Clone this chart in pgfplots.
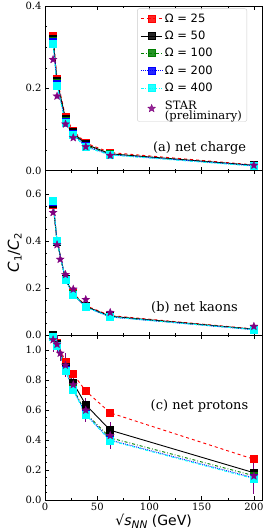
\documentclass[border=0pt]{standalone}
\usepackage{fontspec}
\setmainfont{DejaVu Serif}
\newfontfamily\dvs{DejaVu Sans}
\usepackage{pgfplots}
\pgfplotsset{compat=1.18}
\usepgfplotslibrary{groupplots}
\definecolor{mgreen}{rgb}{0,0.5,0}
\definecolor{mpurple}{rgb}{0.5,0,0.5}
\definecolor{mcyan}{rgb}{0,1,1}
\definecolor{mred}{rgb}{1,0,0}
\definecolor{mblue}{rgb}{0,0,1}
\pgfdeclareplotmark{fstar}{%
  \pgfpathmoveto{\pgfqpointpolar{90}{1.15\pgfplotmarksize}}%
  \pgfpathlineto{\pgfqpointpolar{126}{0.5\pgfplotmarksize}}%
  \pgfpathlineto{\pgfqpointpolar{162}{1.15\pgfplotmarksize}}%
  \pgfpathlineto{\pgfqpointpolar{198}{0.5\pgfplotmarksize}}%
  \pgfpathlineto{\pgfqpointpolar{234}{1.15\pgfplotmarksize}}%
  \pgfpathlineto{\pgfqpointpolar{270}{0.5\pgfplotmarksize}}%
  \pgfpathlineto{\pgfqpointpolar{306}{1.15\pgfplotmarksize}}%
  \pgfpathlineto{\pgfqpointpolar{342}{0.5\pgfplotmarksize}}%
  \pgfpathlineto{\pgfqpointpolar{18}{1.15\pgfplotmarksize}}%
  \pgfpathlineto{\pgfqpointpolar{54}{0.5\pgfplotmarksize}}%
  \pgfpathclose
  \pgfusepathqfillstroke}
\pgfplotsset{
  om25/.style={mred, dashed, line width=0.9pt, mark=square*, mark size=3.5pt, mark options={solid}},
  om50/.style={black, solid, line width=0.9pt, mark=square*, mark size=3.5pt, mark options={solid}},
  om100/.style={mgreen, dash pattern=on 3pt off 2pt on 0.8pt off 2pt, line width=0.9pt, mark=square*, mark size=3.5pt, mark options={solid}},
  om200/.style={mblue, densely dotted, line width=0.9pt, mark=square*, mark size=3.5pt, mark options={solid}},
  om400/.style={mcyan, dash pattern=on 3pt off 1.5pt on 0.8pt off 1.5pt, line width=0.9pt, mark=square*, mark size=3.5pt, mark options={solid}},
  star/.style={mpurple, only marks, mark=fstar, mark size=3.6pt, mark options={fill=mpurple, line width=0.3pt},
     error bars/.cd, y dir=both, y explicit, error bar style={line width=1pt, mpurple}, error mark=none},
}
\begin{document}
\begin{tikzpicture}
\begin{groupplot}[
  group style={group size=1 by 3, vertical sep=0pt, x descriptions at=edge bottom},
  width=217pt, height=164.5pt, scale only axis,
  xmin=0, xmax=208,
  xtick={0,50,100,150,200}, minor x tick num=1,
  minor y tick num=3,
  tick align=inside, xtick pos=both, ytick pos=left,
  major tick length=3.5pt, minor tick length=2pt,
  tick style={black, line width=0.5pt},
  axis line style={line width=0.7pt},
  /pgf/number format/assume math mode=true,
  yticklabel style={/pgf/number format/.cd, fixed, fixed zerofill, precision=1},
  tick label style={font=\fontsize{10}{11}\selectfont},
  ymin=0,
]
\nextgroupplot[ymax=0.4, ytick={0,0.2,0.4},
  legend style={at={(0.93,0.985)}, anchor=north east, draw=black!20, rounded corners=2pt,
    fill=white, fill opacity=0.85, text opacity=1, font=\fontsize{11.5}{12.5}\selectfont,
    row sep=3.3pt, inner sep=3pt},
  legend cell align=left,
  legend image code/.code={\draw[mark repeat=2,mark phase=2] plot coordinates {(0cm,0cm) (0.38cm,0cm) (0.76cm,0cm)};}]
\addplot[om25] coordinates {(7.7,0.328) (11.5,0.223) (19.6,0.131) (27,0.097) (39,0.067) (62.4,0.044) (200,0.014)};
\addlegendentry{{\dvs Ω = 25}}
\addplot[om50] coordinates {(7.7,0.321) (11.5,0.218) (19.6,0.126) (27,0.093) (39,0.064) (62.4,0.041) (200,0.013)};
\addlegendentry{{\dvs Ω = 50}}
\addplot[om100] coordinates {(7.7,0.315) (11.5,0.213) (19.6,0.121) (27,0.090) (39,0.061) (62.4,0.040) (200,0.012)};
\addlegendentry{{\dvs Ω = 100}}
\addplot[om200] coordinates {(7.7,0.312) (11.5,0.210) (19.6,0.118) (27,0.088) (39,0.059) (62.4,0.039) (200,0.012)};
\addlegendentry{{\dvs Ω = 200}}
\addplot[om400] coordinates {(7.7,0.309) (11.5,0.206) (19.6,0.115) (27,0.086) (39,0.057) (62.4,0.038) (200,0.011)};
\addlegendentry{{\dvs Ω = 400}}
\addplot[star] coordinates {(7.7,0.270) +- (0,0.004) (11.5,0.181) +- (0,0.003) (19.6,0.113) +- (0,0.003) (27,0.080) +- (0,0.002) (39,0.058) +- (0,0.002) (62.4,0.037) +- (0,0.002) (200,0.013) +- (0,0.003)};
\addlegendentry{\begin{tabular}{@{}l@{}}STAR\\[-2pt](preliminary)\end{tabular}}
\node[anchor=east, font=\fontsize{13}{14}\selectfont] at (axis cs:196,0.056) {(a) net charge};

\nextgroupplot[ymax=0.7, ytick={0,0.2,0.4,0.6},
  ylabel={{\dvs\itshape C}{\dvs\raisebox{-0.35ex}{\fontsize{10}{10}\selectfont 1}/}{\dvs\itshape C}{\dvs\raisebox{-0.35ex}{\fontsize{10}{10}\selectfont 2}}},
  ylabel style={font=\fontsize{15}{16}\selectfont, yshift=-3pt}]
\addplot[om25] coordinates {(7.7,0.556) (11.5,0.399) (19.6,0.240) (27,0.178) (39,0.126) (62.4,0.084) (200,0.027)};
\addplot[om50] coordinates {(7.7,0.560) (11.5,0.399) (19.6,0.238) (27,0.176) (39,0.123) (62.4,0.081) (200,0.026)};
\addplot[om100] coordinates {(7.7,0.566) (11.5,0.400) (19.6,0.237) (27,0.174) (39,0.121) (62.4,0.079) (200,0.025)};
\addplot[om200] coordinates {(7.7,0.569) (11.5,0.401) (19.6,0.236) (27,0.173) (39,0.120) (62.4,0.078) (200,0.024)};
\addplot[om400] coordinates {(7.7,0.571) (11.5,0.401) (19.6,0.236) (27,0.173) (39,0.120) (62.4,0.078) (200,0.024)};
\addplot[star] coordinates {(7.7,0.522) +- (0,0.006) (11.5,0.385) +- (0,0.005) (14.5,0.323) +- (0,0.004) (19.6,0.258) +- (0,0.004) (27,0.196) +- (0,0.004) (39,0.152) +- (0,0.004) (62.4,0.097) +- (0,0.005) (200,0.038) +- (0,0.006)};
\node[anchor=east, font=\fontsize{13}{14}\selectfont] at (axis cs:188,0.117) {(b) net kaons};

\nextgroupplot[ymax=1.1, ytick={0,0.2,0.4,0.6,0.8,1.0},
  xlabel={{\dvs √}{\dvs\itshape s}{\dvs\itshape\raisebox{-0.4ex}{\fontsize{10.5}{11}\selectfont NN}}{\dvs\ (GeV)}},
  xlabel style={font=\fontsize{14}{15}\selectfont, yshift=4pt}]
\addplot[om25] coordinates {(7.7,1.12) (11.5,1.05) (19.6,0.925) (27,0.840) (39,0.728) (62.4,0.582) (200,0.272)};
\addplot[om50] coordinates {(7.7,1.10) (11.5,1.04) (19.6,0.890) (27,0.782) (39,0.636) (62.4,0.466) (200,0.182)};
\addplot[om100] coordinates {(7.7,1.09) (11.5,1.03) (19.6,0.870) (27,0.745) (39,0.580) (62.4,0.415) (200,0.162)};
\addplot[om200] coordinates {(7.7,1.09) (11.5,1.03) (19.6,0.866) (27,0.738) (39,0.574) (62.4,0.400) (200,0.148)};
\addplot[om400] coordinates {(7.7,1.09) (11.5,1.03) (19.6,0.863) (27,0.733) (39,0.569) (62.4,0.396) (200,0.142)};
\addplot[star] coordinates {(7.7,1.07) +- (0,0.08) (11.5,1.04) +- (0,0.06) (14.5,0.98) +- (0,0.05) (19.6,0.90) +- (0,0.08) (27,0.77) +- (0,0.05) (39,0.60) +- (0,0.08) (62.4,0.43) +- (0,0.09) (200,0.16) +- (0,0.12)};
\node[anchor=east, font=\fontsize{13}{14}\selectfont] at (axis cs:198,0.63) {(c) net protons};
\end{groupplot}
\pgfresetboundingbox
\path[use as bounding box] ([xshift=-45pt,yshift=-32pt]group c1r3.south west) rectangle ([xshift=4pt,yshift=6pt]group c1r1.north east);
\end{tikzpicture}
\end{document}
